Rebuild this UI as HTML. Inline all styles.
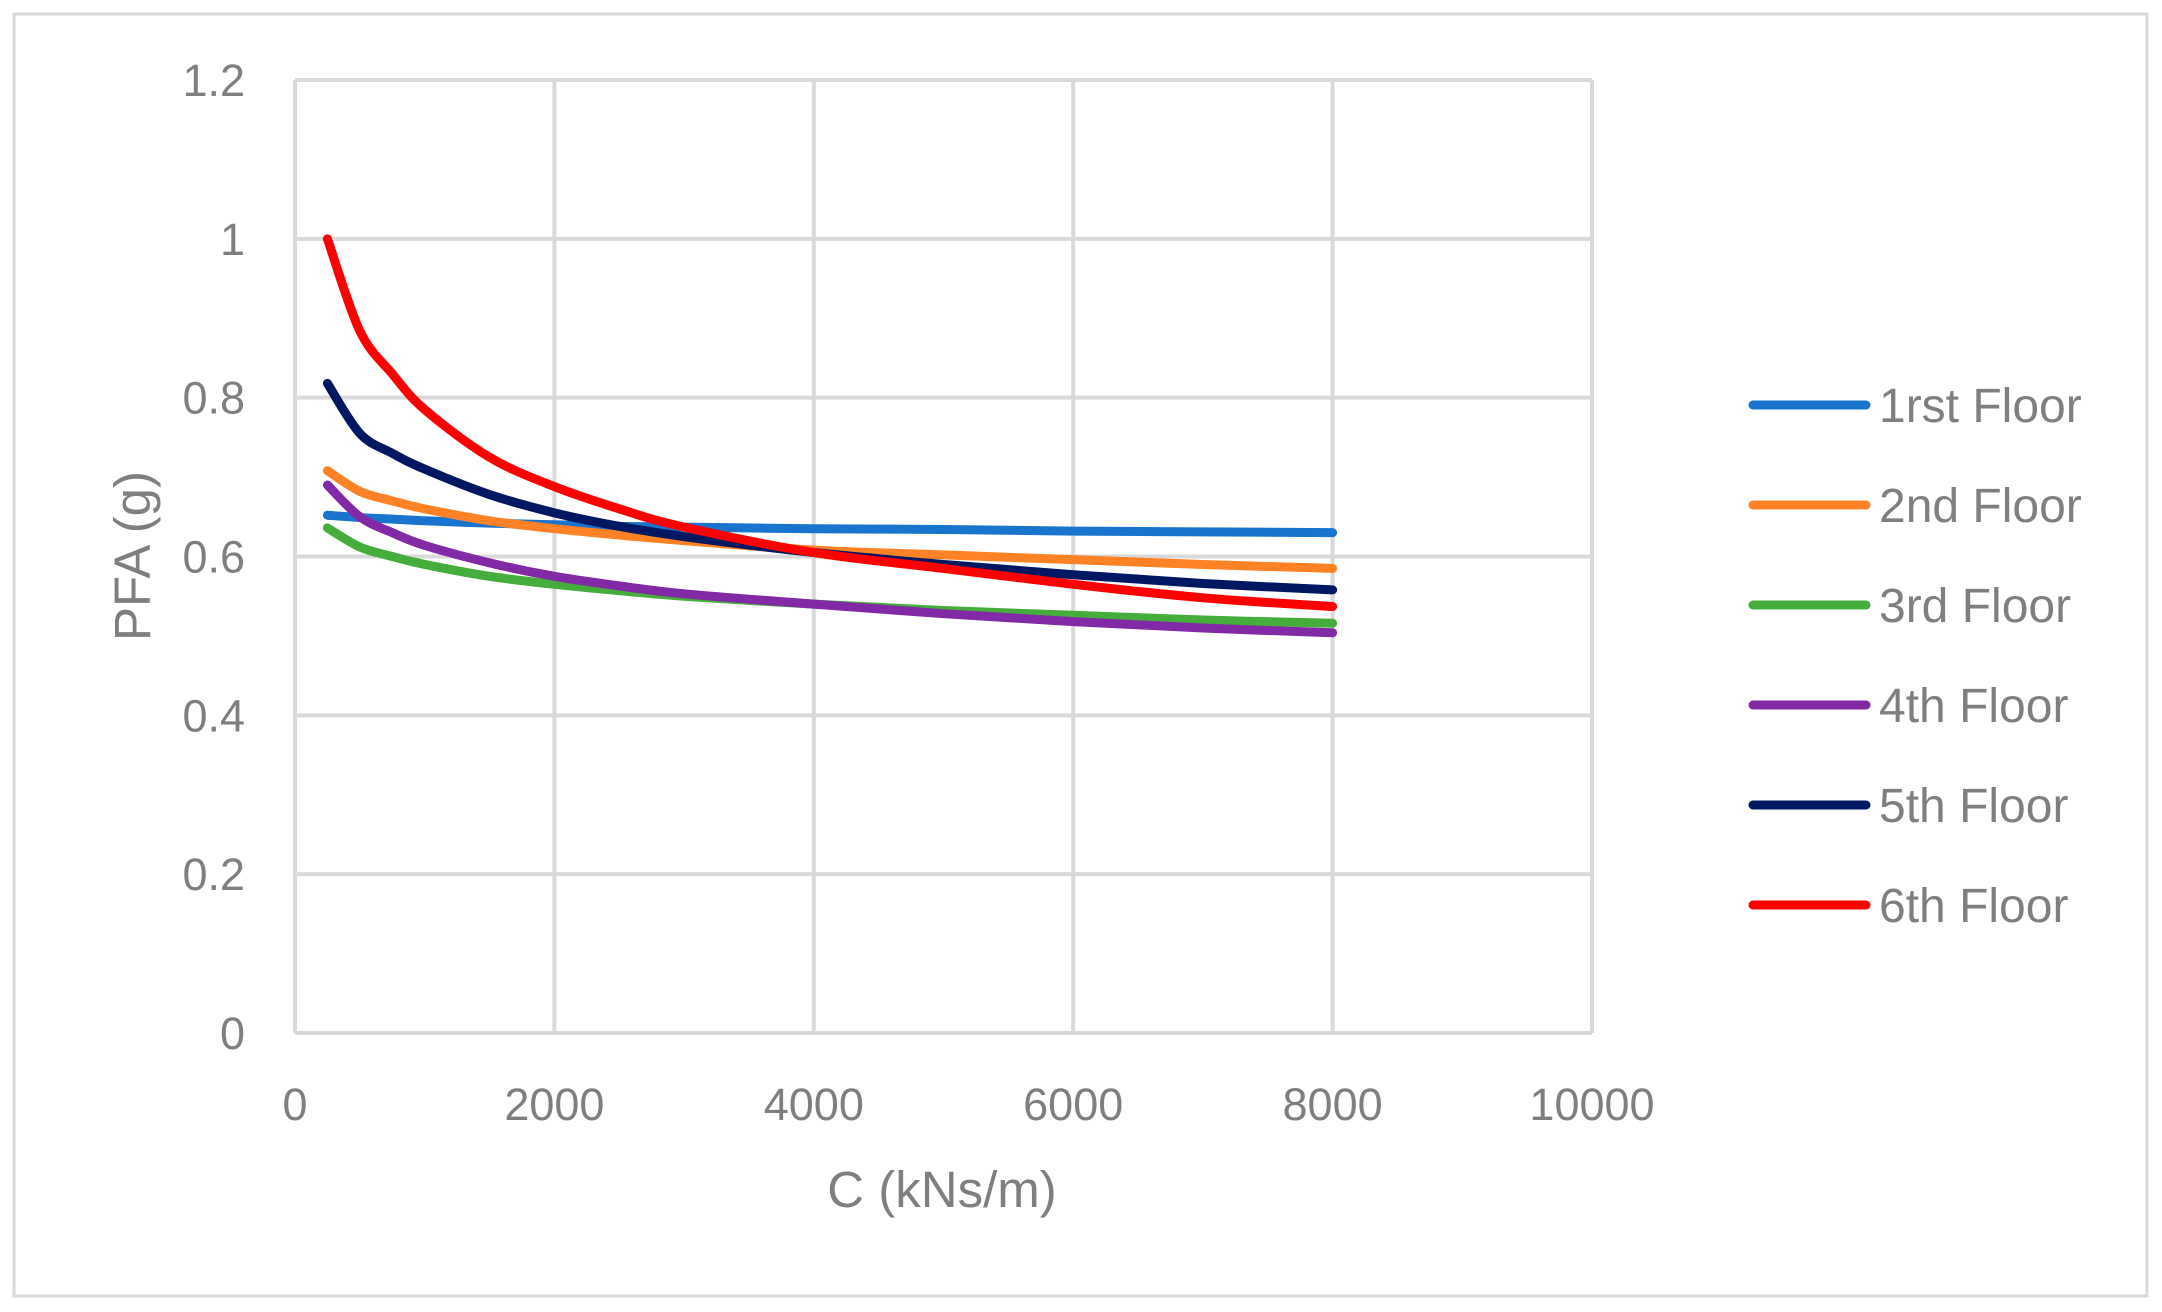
<!DOCTYPE html>
<html><head><meta charset="utf-8"><style>
body{margin:0;background:#fff}
svg{display:block}
text{font-family:"Liberation Sans",sans-serif;fill:#7f7f7f}
</style></head><body>
<svg id="chart" width="2162" height="1312">
<rect x="14" y="14" width="2133" height="1282" fill="#fff" stroke="#d9d9d9" stroke-width="3"/>
<g id="grid"></g><g id="series"></g><g id="legend"></g>
<text x="942" y="1207" font-size="51" text-anchor="middle">C (kNs/m)</text>
<text transform="translate(150,556) rotate(-90)" font-size="51" text-anchor="middle">PFA (g)</text>
</svg>
<script>
const xs=[250,500,750,1000,1500,2000,2500,3000,4000,5000,6000,7000,8000];
const floor1=[0.652,0.649,0.647,0.645,0.642,0.640,0.638,0.637,0.635,0.634,0.632,0.631,0.630];
const floor2=[0.708,0.682,0.670,0.660,0.645,0.635,0.627,0.620,0.608,0.602,0.596,0.590,0.585];
const floor3=[0.636,0.612,0.600,0.590,0.575,0.565,0.557,0.550,0.540,0.532,0.526,0.520,0.516];
const floor4=[0.690,0.650,0.630,0.614,0.592,0.575,0.563,0.553,0.540,0.528,0.518,0.510,0.504];
const floor5=[0.818,0.755,0.730,0.710,0.678,0.655,0.638,0.625,0.605,0.590,0.577,0.566,0.558];
const floor6=[1.000,0.884,0.830,0.785,0.725,0.688,0.660,0.637,0.605,0.585,0.565,0.548,0.537];
const names=["1rst Floor","2nd Floor","3rd Floor","4th Floor","5th Floor","6th Floor"];
const colors=["#1874cd","#ff8226","#44ad3c","#8229a5","#001861","#ff0000"];
const xTicks=[0,2000,4000,6000,8000,10000];
const yTicks=[0,0.2,0.4,0.6,0.8,1,1.2];
const L=295,R=1592,T=80,B=1033;
const X=v=>L+v/10000*(R-L), Y=v=>B-v/1.2*(B-T);
const ns="http://www.w3.org/2000/svg";
function mk(t,a,p){const e=document.createElementNS(ns,t);for(const k in a)e.setAttribute(k,a[k]);p.appendChild(e);return e;}
function smooth(pts){
 let d='M'+pts[0][0]+','+pts[0][1];
 for(let i=0;i<pts.length-1;i++){
  const p0=pts[Math.max(0,i-1)],p1=pts[i],p2=pts[i+1],p3=pts[Math.min(pts.length-1,i+2)];
  const c1=[p1[0]+(p2[0]-p0[0])/6,p1[1]+(p2[1]-p0[1])/6];
  const c2=[p2[0]-(p3[0]-p1[0])/6,p2[1]-(p3[1]-p1[1])/6];
  d+=' C'+c1.join(',')+' '+c2.join(',')+' '+p2.join(',');
 }
 return d;
}
const g=document.getElementById('grid');
yTicks.forEach(v=>{
 const l=mk('line',{x1:L,x2:R,y1:Y(v),y2:Y(v),stroke:'#d9d9d9','stroke-width':4},g);
 
 
 const t=mk('text',{x:245,y:Y(v)+16,'font-size':45,'text-anchor':'end'},g);t.textContent=String(v);
 
 
});
xTicks.forEach(v=>{
 const l=mk('line',{x1:X(v),x2:X(v),y1:T,y2:B,stroke:'#d9d9d9','stroke-width':4},g);
 
 
 const t=mk('text',{x:X(v),y:1120,'font-size':45,'text-anchor':'middle'},g);t.textContent=String(v);
 
 
});
const s=document.getElementById('series'),lg=document.getElementById('legend');
[floor1,floor2,floor3,floor4,floor5,floor6].forEach((d,i)=>{
 const p=mk('path',{d:smooth(d.map((v,j)=>[X(xs[j]),Y(v)])),fill:'none',stroke:colors[i],'stroke-width':9,'stroke-linecap':'round','stroke-linejoin':'round'},s);
 
 
 const y=405+i*100;
 const ll=mk('line',{x1:1753,x2:1866,y1:y,y2:y,stroke:colors[i],'stroke-width':9,'stroke-linecap':'round'},lg);
 
 
 const t=mk('text',{x:1879,y:y+17,'font-size':48},lg);t.textContent=names[i];
 
 
});
</script>
</body></html>
